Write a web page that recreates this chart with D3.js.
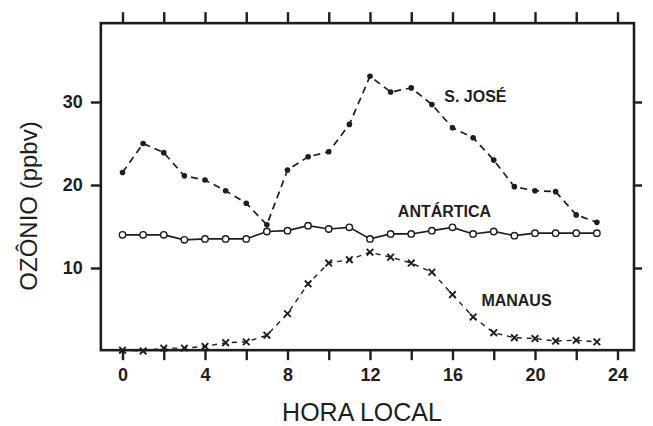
<!DOCTYPE html>
<html>
<head>
<meta charset="utf-8">
<script src="https://cdn.jsdelivr.net/npm/d3@7"></script>
<style>
  body { margin: 0; background: #fff; }
  svg { display: block; }
  .axis text { font-family: "Liberation Sans", Arial, sans-serif; font-weight: bold; font-size: 18px; fill: #1e1e1e; }
  .axis line { stroke: #1e1e1e; stroke-width: 2.4; }
  .axis path { display: none; }
  .serie-label { font-family: "Liberation Sans", Arial, sans-serif; font-weight: bold; font-size: 16px; fill: #1e1e1e; }
  .titulo { font-family: "Liberation Sans", Arial, sans-serif; font-size: 25px; fill: #1e1e1e; }
</style>
</head>
<body>
<div id="chart"></div>
<script>
// dados (ozonio em ppbv por hora local)
var horas = [0, 1, 2, 3, 4, 5, 6, 7, 8, 9, 10, 11, 12, 13, 14, 15, 16, 17, 18, 19, 20, 21, 22, 23];
var sjose = [21.5, 25.0, 23.9, 21.1, 20.6, 19.3, 17.8, 15.2, 21.8, 23.4, 24.0, 27.3,
             33.1, 31.2, 31.7, 29.7, 26.9, 25.7, 23.0, 19.8, 19.3, 19.2, 16.4, 15.5];
var antartica = [14.0, 14.0, 14.0, 13.4, 13.5, 13.5, 13.5, 14.4, 14.5, 15.1, 14.7, 14.9,
                 13.5, 14.1, 14.1, 14.5, 14.9, 14.1, 14.4, 13.9, 14.2, 14.2, 14.2, 14.2];
var manaus = [0.1, 0.0, 0.35, 0.35, 0.55, 1.0, 1.1, 1.9, 4.5, 8.1, 10.6, 11.0,
              11.9, 11.3, 10.6, 9.5, 6.8, 4.1, 2.2, 1.6, 1.5, 1.2, 1.3, 1.1];
var xTicks = [0, 2, 4, 6, 8, 10, 12, 14, 16, 18, 20, 22, 24];
var xLabels = [0, 4, 8, 12, 16, 20, 24];
var yTicks = [10, 20, 30];

var W = 653, H = 426;
var ink = "#1e1e1e";

var x = d3.scaleLinear().domain([0, 24]).range([122.5, 617.5]);
var y = d3.scaleLinear().domain([0, 30]).range([351, 102]);

var svg = d3.select("#chart").append("svg")
    .attr("width", W)
    .attr("height", H);

// moldura
var x0 = x(-1.05), x1 = x(24.8), yTop = y(39.5), yBot = y(0.1);
svg.append("rect")
    .attr("x", x0).attr("y", yTop)
    .attr("width", x1 - x0).attr("height", yBot - yTop)
    .attr("fill", "none")
    .attr("stroke", ink)
    .attr("stroke-width", 2.6);

// eixos
svg.append("g")
    .attr("class", "axis")
    .attr("transform", "translate(0," + yBot + ")")
    .call(d3.axisBottom(x).tickValues(xTicks).tickSize(10).tickPadding(8)
        .tickFormat(function(d) { return xLabels.indexOf(d) >= 0 ? d : ""; }));
svg.append("g")
    .attr("class", "axis")
    .attr("transform", "translate(0," + yTop + ")")
    .call(d3.axisTop(x).tickValues(xTicks).tickSize(11).tickFormat(""));
svg.append("g")
    .attr("class", "axis")
    .attr("transform", "translate(" + x0 + ",0)")
    .call(d3.axisLeft(y).tickValues(yTicks).tickSize(10).tickPadding(8));
svg.append("g")
    .attr("class", "axis")
    .attr("transform", "translate(" + x1 + ",0)")
    .call(d3.axisRight(y).tickValues(yTicks).tickSize(8).tickFormat(""));

// titulos dos eixos
svg.append("text")
    .attr("class", "titulo")
    .attr("x", 362).attr("y", 421)
    .attr("text-anchor", "middle")
    .text("HORA LOCAL");
svg.append("text")
    .attr("class", "titulo")
    .attr("transform", "translate(37,206)rotate(-90)")
    .attr("text-anchor", "middle")
    .style("font-size", "24px")
    .text("OZÔNIO (ppbv)");

function serie(vals) {
    return horas.map(function(h, i) { return {h: h, v: vals[i]}; });
}
var line = d3.line()
    .x(function(d) { return x(d.h); })
    .y(function(d) { return y(d.v); });

// S. Jose
svg.append("path")
    .datum(serie(sjose))
    .attr("d", line)
    .attr("fill", "none")
    .attr("stroke", ink)
    .attr("stroke-width", 1.7)
    .attr("stroke-dasharray", "7,5");
svg.selectAll(".sj")
    .data(serie(sjose))
    .enter().append("circle")
    .attr("class", "sj")
    .attr("cx", function(d) { return x(d.h); })
    .attr("cy", function(d) { return y(d.v); })
    .attr("r", 2.8)
    .attr("fill", ink);

// Antartica
svg.append("path")
    .datum(serie(antartica))
    .attr("d", line)
    .attr("fill", "none")
    .attr("stroke", ink)
    .attr("stroke-width", 1.7);
svg.selectAll(".ant")
    .data(serie(antartica))
    .enter().append("circle")
    .attr("class", "ant")
    .attr("cx", function(d) { return x(d.h); })
    .attr("cy", function(d) { return y(d.v); })
    .attr("r", 3.2)
    .attr("fill", "#fff")
    .attr("stroke", ink)
    .attr("stroke-width", 1.4);

// Manaus
svg.append("path")
    .datum(serie(manaus))
    .attr("d", line)
    .attr("fill", "none")
    .attr("stroke", ink)
    .attr("stroke-width", 1.4)
    .attr("stroke-dasharray", "5,5");
svg.selectAll(".man")
    .data(serie(manaus))
    .enter().append("path")
    .attr("class", "man")
    .attr("transform", function(d) { return "translate(" + x(d.h) + "," + y(d.v) + ")"; })
    .attr("d", d3.symbol().type(d3.symbolX).size(30))
    .attr("fill", "#fff")
    .attr("stroke", ink)
    .attr("stroke-width", 1.9);

// rotulos das series
svg.append("text").attr("class", "serie-label")
    .attr("x", x(15.6)).attr("y", y(30))
    .text("S. JOSÉ");
svg.append("text").attr("class", "serie-label")
    .attr("x", x(13.35)).attr("y", y(16.2))
    .text("ANTÁRTICA");
svg.append("text").attr("class", "serie-label")
    .attr("x", x(17.4)).attr("y", y(5.4))
    .text("MANAUS");
</script>
</body>
</html>
